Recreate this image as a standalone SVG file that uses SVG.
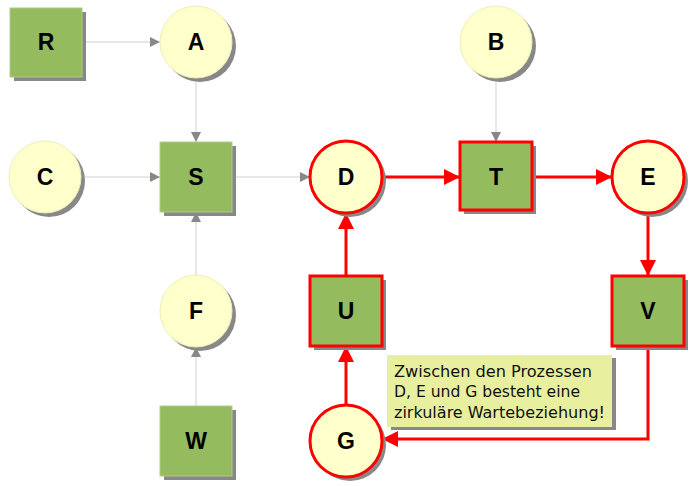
<svg xmlns="http://www.w3.org/2000/svg" width="695" height="487" viewBox="0 0 695 487">
<defs>
<style>
.sq{fill:#94bb5e;stroke:#aecc86;stroke-width:1}
.sqr{fill:#94bb5e;stroke:#ff0000;stroke-width:3}
.ci{fill:#ffffcc;stroke:#eeeebb;stroke-width:1}
.cir{fill:#ffffcc;stroke:#ff0000;stroke-width:3}
.sh{fill:#888888}
.lbl{font-family:"Liberation Sans",Arial,sans-serif;font-weight:bold;font-size:23px;fill:#000;text-anchor:middle}
.g{stroke:#d0d0d0;stroke-width:1;fill:none}
.r{stroke:#ff0000;stroke-width:3;fill:none}
.note{font-family:"DejaVu Sans Condensed","DejaVu Sans",sans-serif;font-size:16px;fill:#111}
</style>
<marker id="ga" viewBox="0 0 10 10" refX="10" refY="5" markerWidth="12" markerHeight="10" markerUnits="userSpaceOnUse" orient="auto"><path d="M0,0L10,5L0,10z" fill="#888"/></marker>
<marker id="ra" viewBox="0 0 10 10" refX="10" refY="5" markerWidth="24" markerHeight="16" markerUnits="userSpaceOnUse" orient="auto"><path d="M0,0L10,5L0,10z" fill="#ff0000"/></marker>
</defs>
<g id="connectors">
<line class="g" x1="82" y1="42" x2="160" y2="42" marker-end="url(#ga)"/>
<line class="g" x1="196" y1="78" x2="196" y2="142" marker-end="url(#ga)"/>
<line class="g" x1="81" y1="177" x2="160" y2="177" marker-end="url(#ga)"/>
<line class="g" x1="196" y1="275" x2="196" y2="212" marker-end="url(#ga)"/>
<line class="g" x1="196" y1="406" x2="196" y2="347" marker-end="url(#ga)"/>
<line class="g" x1="232" y1="177" x2="310" y2="177" marker-end="url(#ga)"/>
<line class="g" x1="496" y1="78" x2="496" y2="142" marker-end="url(#ga)"/>
<line class="r" x1="382" y1="177" x2="460" y2="177" marker-end="url(#ra)"/>
<line class="r" x1="532" y1="177" x2="612" y2="177" marker-end="url(#ra)"/>
<line class="r" x1="648" y1="213" x2="648" y2="276" marker-end="url(#ra)"/>
<line class="r" x1="346" y1="276" x2="346" y2="213" marker-end="url(#ra)"/>
<line class="r" x1="346" y1="405" x2="346" y2="346" marker-end="url(#ra)"/>
<path class="r" d="M648,346V439H382" marker-end="url(#ra)"/>
</g>
<g id="R"><rect class="sh" x="14" y="12" width="72" height="69"/><rect class="sq" x="10" y="8" width="72" height="69"/><text class="lbl" x="46" y="50">R</text></g>
<g id="A"><circle class="sh" cx="200" cy="46" r="36"/><circle class="ci" cx="196" cy="42" r="36"/><text class="lbl" x="196" y="50">A</text></g>
<g id="B"><circle class="sh" cx="500" cy="46" r="36"/><circle class="ci" cx="496" cy="42" r="36"/><text class="lbl" x="496" y="50">B</text></g>
<g id="C"><circle class="sh" cx="49" cy="181" r="36"/><circle class="ci" cx="45" cy="177" r="36"/><text class="lbl" x="45" y="185">C</text></g>
<g id="S"><rect class="sh" x="164" y="146" width="72" height="70"/><rect class="sq" x="160" y="142" width="72" height="70"/><text class="lbl" x="196" y="185">S</text></g>
<g id="D"><circle class="sh" cx="350" cy="181" r="36"/><circle class="cir" cx="346" cy="177" r="36"/><text class="lbl" x="346" y="185">D</text></g>
<g id="T"><rect class="sh" x="464" y="146" width="72" height="68"/><rect class="sqr" x="460" y="142" width="72" height="68"/><text class="lbl" x="496" y="185">T</text></g>
<g id="E"><circle class="sh" cx="652" cy="181" r="36"/><circle class="cir" cx="648" cy="177" r="36"/><text class="lbl" x="648" y="185">E</text></g>
<g id="F"><circle class="sh" cx="200" cy="315" r="36"/><circle class="ci" cx="196" cy="311" r="36"/><text class="lbl" x="196" y="319">F</text></g>
<g id="U"><rect class="sh" x="314" y="280" width="72" height="70"/><rect class="sqr" x="310" y="276" width="72" height="70"/><text class="lbl" x="346" y="319">U</text></g>
<g id="V"><rect class="sh" x="616" y="280" width="72" height="70"/><rect class="sqr" x="612" y="276" width="72" height="70"/><text class="lbl" x="648" y="319">V</text></g>
<g id="W"><rect class="sh" x="164" y="410" width="72" height="70"/><rect class="sq" x="160" y="406" width="72" height="70"/><text class="lbl" x="196" y="449">W</text></g>
<g id="G"><circle class="sh" cx="350" cy="445" r="36"/><circle class="cir" cx="346" cy="441" r="36"/><text class="lbl" x="346" y="449">G</text></g>
<g id="note"><rect class="sh" x="391" y="358" width="225" height="72"/><rect x="387" y="355" width="225" height="72" fill="#e8f0a0"/>
<text class="note" x="394" y="377" textLength="198" lengthAdjust="spacingAndGlyphs">Zwischen den Prozessen</text>
<text class="note" x="394" y="397" textLength="186" lengthAdjust="spacingAndGlyphs">D, E und G besteht eine</text>
<text class="note" x="394" y="418" textLength="211" lengthAdjust="spacingAndGlyphs">zirkuläre Wartebeziehung!</text></g>
</svg>
